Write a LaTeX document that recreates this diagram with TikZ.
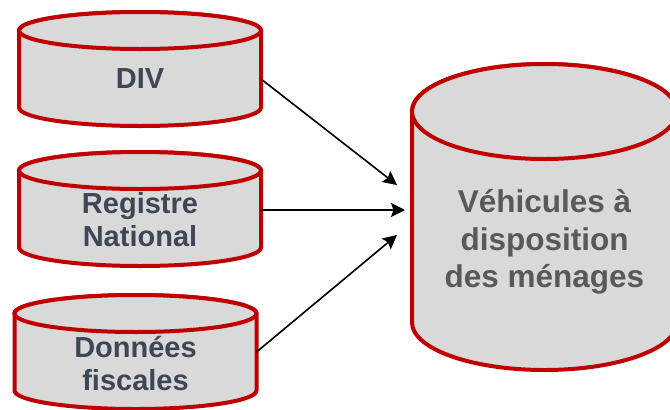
\documentclass[tikz,border=0pt]{standalone}
\usepackage{xcolor}
\usepackage{fontspec}
\setmainfont{Liberation Sans}
\usetikzlibrary{arrows.meta,positioning}
\definecolor{dbred}{HTML}{C00000}
\definecolor{dbfill}{HTML}{D9D9D9}
\definecolor{dbtext}{HTML}{3F4756}
\definecolor{bigtext}{HTML}{595959}
% cylinder round a node: #1 node, #2 half width, #3 half height, #4 lid radius
\newcommand{\dbcylinder}[4]{%
  \begin{scope}[shift={(#1.center)}]
    \filldraw[dbline] (-#2,#3-#4) -- (-#2,-#3+#4) arc[start angle=180, end angle=360, x radius=#2, y radius=#4]
      -- (#2,#3-#4) arc[start angle=0, end angle=180, x radius=#2, y radius=#4] -- cycle;
    \draw[dbline] (0,#3-#4) ellipse[x radius=#2, y radius=#4];
  \end{scope}}

\begin{document}
\begin{tikzpicture}[
  dbline/.style={draw=dbred, fill=dbfill, line width=4pt},
  smalldb/.style={inner sep=0pt, outer sep=0pt, minimum width=242pt, minimum height=114pt},
  bigdb/.style={inner sep=0pt, outer sep=0pt, minimum width=265pt, minimum height=306pt},
  smalltxt/.style={font=\bfseries\fontsize{29}{33}\selectfont, text=dbtext, align=center},
  bigtxt/.style={font=\bfseries\fontsize{31.5}{37.5}\selectfont, text=bigtext, align=center},
  arrow/.style={-{Stealth[length=14pt,width=14pt,inset=2.5pt]}, line width=1.6pt}
]
\useasboundingbox (0,0) rectangle (670pt,-410pt);
\node[smalldb] (div) at (140pt,-69pt) {};
\node[smalldb, below=26pt of div] (registre) {};
\node[smalldb, below=29pt of registre, xshift=-4.5pt] (donnees) {};
\node[bigdb] (vehicules) at (544.5pt,-217pt) {};
\dbcylinder{div}{121pt}{57pt}{18.5pt}
\dbcylinder{registre}{121pt}{57pt}{18.5pt}
\dbcylinder{donnees}{121pt}{57pt}{18.5pt}
\dbcylinder{vehicules}{132.5pt}{153pt}{47.5pt}
\node[smalltxt] (divtxt) at ([yshift=-10pt]div.center) {DIV};
\node[smalltxt] (registretxt) at ([yshift=-11pt]registre.center) {Registre\\National};
\node[smalltxt] (donneestxt) at ([yshift=-12pt]donnees.center) {Données\\fiscales};
\node[bigtxt] (vehiculestxt) at ([yshift=-25pt]vehicules.center) {Véhicules à\\disposition\\des ménages};
\draw[arrow] ([yshift=-10pt]div.east) -- ([xshift=-15pt,yshift=32pt]vehicules.west);
\draw[arrow] ([yshift=-1pt]registre.east) -- ([xshift=-7pt,yshift=7pt]vehicules.west);
\draw[arrow] (donnees.east) -- ([xshift=-15pt,yshift=-18pt]vehicules.west);
\end{tikzpicture}
\end{document}
